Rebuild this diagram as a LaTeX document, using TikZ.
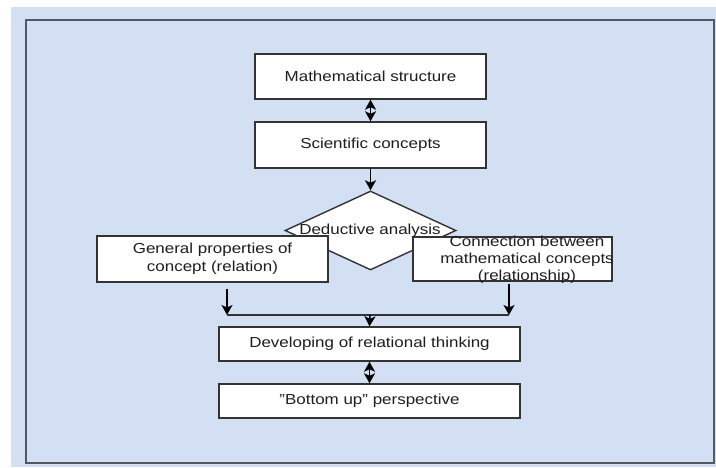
\documentclass[tikz,border=0pt]{standalone}
\usepackage{fontspec}
\setmainfont{Liberation Sans}[FakeStretch=1.17]
\usetikzlibrary{shapes.geometric,arrows.meta}
\definecolor{panel}{HTML}{D3DFF2}
\definecolor{framegray}{HTML}{535862}
\definecolor{boxline}{HTML}{333333}
\definecolor{ink}{HTML}{1E1E1E}
\begin{document}
\begin{tikzpicture}[x=1pt,y=-1pt,
  box/.style={draw=boxline,line width=1.4pt,fill=white,inner sep=0pt,
    text=ink,font=\fontsize{14.5}{18}\selectfont,align=center},
  txt/.style={text=ink,font=\fontsize{14.5}{17}\selectfont,align=center,inner sep=0pt},
  tip/.style={Stealth[length=10pt,width=11pt,inset=2.5pt]},
  arr/.style={draw=black,line width=1.5pt,-{Stealth[length=10pt,width=11pt,inset=2.5pt]}},
  darr/.style={draw=black,line width=1.5pt,{Stealth[length=10pt,width=11pt,inset=2.5pt]}-{Stealth[length=10pt,width=11pt,inset=2.5pt]}},
  wire/.style={draw=boxline,line width=1.4pt}]
  \useasboundingbox (0,0) rectangle (716,468);
  % page background and frame
  \fill[white] (0,0) rectangle (716,468);
  \fill[panel] (11,7) rectangle (716,467);
  \draw[framegray,line width=2pt] (26,20) rectangle (714,463);

  % top chain
  \node[box,minimum width=231pt,minimum height=45pt] (math) at (370.5,76.5) {Mathematical structure};
  \node[box,minimum width=231pt,minimum height=46pt] (sci) at (370.5,145) {Scientific concepts};

  % decision diamond (label placed last so it sits above the side boxes)
  \node[draw=boxline,line width=1.4pt,fill=white,diamond,aspect=2.16,inner sep=0pt,
        minimum width=171pt,minimum height=79pt] (ded) at (370.5,230.5) {};

  % side boxes
  \node[box,minimum width=231pt,minimum height=46pt] (gen) at (212.5,259) {General properties of\\concept (relation)};
  \node[box,minimum width=199pt,minimum height=44pt] (conn) at (512.5,259) {};
  \node[txt] (conntext) at (527,259.5) {Connection between\\mathematical concepts\\(relationship)};
  \node[txt] (dedtext) at (370,231) {Deductive analysis};

  % lower chain
  \node[box,minimum width=301pt,minimum height=34pt] (dev) at (369.5,344) {Developing of relational thinking};
  \node[box,minimum width=301pt,minimum height=34pt] (bot) at (369.5,401) {\symbol{34}Bottom up\symbol{34} perspective};

  % junction line
  \coordinate (jl) at (227,315);
  \coordinate (jr) at (509,315);
  \coordinate (jm) at (370,315);

  % connectors
  \draw[darr] (math.south) -- (sci.north);
  \draw[arr] (sci.south) -- (ded.north);
  \draw[arr] ([yshift=-6pt]gen.south -| jl) -- (jl);
  \draw[arr] ([yshift=-2pt]conn.south -| jr) -- (jr);
  \draw[wire] (jl) -- (jr);
  \draw[arr] (jm) -- (dev.north);
  \draw[darr] (dev.south) -- (bot.north);
\end{tikzpicture}
\end{document}
